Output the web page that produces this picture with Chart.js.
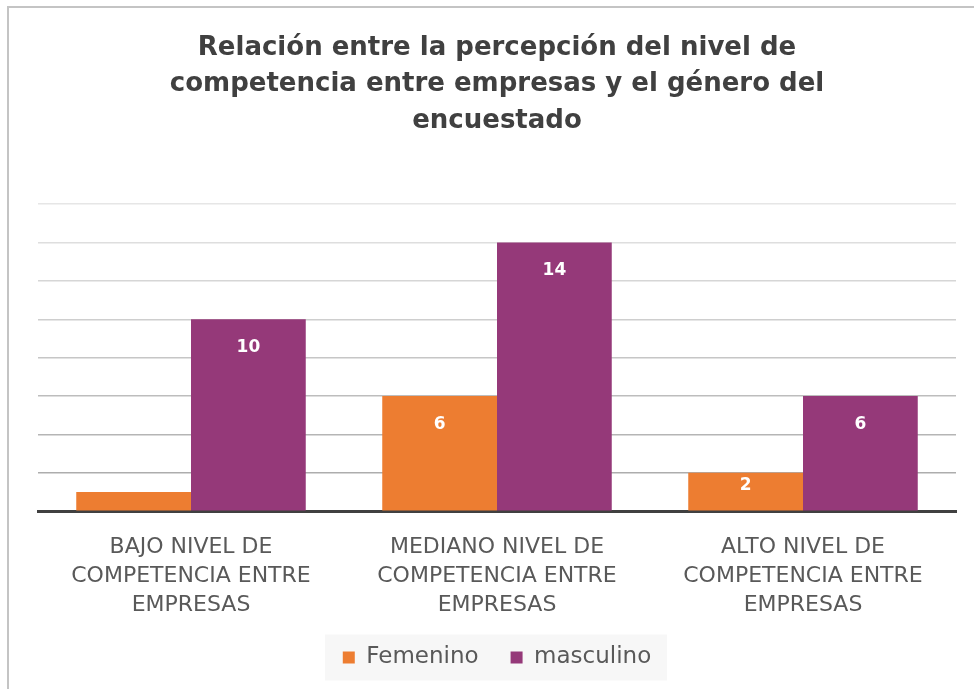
<!DOCTYPE html>
<html>
<head>
<meta charset="utf-8">
<script src="https://cdn.jsdelivr.net/npm/chart.js@4/dist/chart.umd.min.js"></script>
<style>
    html, body { margin: 0; padding: 0; background: #fff; }
    #frame {
        position: absolute; left: 7px; top: 6px;
        width: 967px; height: 683px;
        border-left: 2px solid #c4c4c4; border-top: 2px solid #c4c4c4;
    }
    canvas { display: block; }
</style>
</head>
<body>
<div id="frame"><canvas id="genderChart" width="967" height="683"></canvas></div>
<script>
const categories = [
    ["BAJO NIVEL DE", "COMPETENCIA ENTRE", "EMPRESAS"],
    ["MEDIANO NIVEL DE", "COMPETENCIA ENTRE", "EMPRESAS"],
    ["ALTO NIVEL DE", "COMPETENCIA ENTRE", "EMPRESAS"]
];
const femenino = [1, 6, 2];
const masculino = [10, 14, 6];
const seriesNames = ["Femenino", "masculino"];

const FONT = "'DejaVu Sans', sans-serif";

// white value labels near the top of each bar
const barLabels = {
    id: 'barLabels',
    afterDatasetsDraw(chart) {
        const ctx = chart.ctx;
        ctx.save();
        ctx.font = "bold 17px " + FONT;
        ctx.fillStyle = '#ffffff';
        ctx.textAlign = 'center';
        ctx.textBaseline = 'middle';
        chart.data.datasets.forEach((ds, i) => {
            chart.getDatasetMeta(i).data.forEach((bar, j) => {
                const h = bar.base - bar.y;
                if (h < 30) return;
                ctx.fillText(ds.data[j], bar.x, bar.y + Math.min(28, h * 0.35));
            });
        });
        ctx.restore();
    }
};

// light grey box behind the legend
const legendBox = {
    id: 'legendBox',
    beforeDraw(chart) {
        const hb = chart.legend.legendHitBoxes && chart.legend.legendHitBoxes[0];
        if (!hb) return;
        const ctx = chart.ctx;
        ctx.save();
        ctx.fillStyle = '#f7f7f7';
        const w = 342, h = 46;
        const cx = chart.chartArea.left + (chart.chartArea.right - chart.chartArea.left) / 2;
        const cy = hb.top + hb.height / 2;
        ctx.fillRect(cx - w / 2 - 1, cy - h / 2, w, h);
        ctx.restore();
    }
};

const ctxGender = document.getElementById('genderChart').getContext('2d');
const genderChart = new Chart(ctxGender, {
    type: 'bar',
    data: {
        labels: categories,
        datasets: [
            {
                label: seriesNames[0],
                data: femenino,
                backgroundColor: '#ED7D31',
            },
            {
                label: seriesNames[1],
                data: masculino,
                backgroundColor: '#953979',
            }
        ]
    },
    options: {
        responsive: false,
        animation: false,
        layout: {
            padding: { left: 29, right: 20, top: 0, bottom: 12 }
        },
        datasets: {
            bar: {
                categoryPercentage: 0.75,
                barPercentage: 1.0,
                borderWidth: 0,
            }
        },
        scales: {
            x: {
                grid: { display: false },
                border: { color: '#404040', width: 3 },
                ticks: {
                    color: '#595959',
                    font: { family: FONT, size: 22, lineHeight: 1.33 },
                    padding: 13,
                    maxRotation: 0,
                },
                afterFit: (scale) => { scale.height -= 19; },
            },
            y: {
                min: 0,
                max: 16,
                ticks: { display: false, stepSize: 2 },
                border: { display: false },
                grid: {
                    drawTicks: false,
                    lineWidth: 1.5,
                    color: (c) => {
                        const v = c.tick ? c.tick.value : 0;
                        const g = Math.round(165 + (v / 16) * 65);
                        return 'rgb(' + g + ',' + g + ',' + g + ')';
                    },
                },
            }
        },
        plugins: {
            title: {
                display: true,
                text: [
                    "Relación entre la percepción del nivel de",
                    "competencia entre empresas y el género del",
                    "encuestado"
                ],
                color: '#404040',
                font: { family: FONT, size: 26, weight: 'bold', lineHeight: 1.4 },
                padding: { top: 22, bottom: 65 },
            },
            legend: {
                position: 'bottom',
                labels: {
                    color: '#595959',
                    font: { family: FONT, size: 23 },
                    boxWidth: 12,
                    boxHeight: 12,
                    padding: 32,
                },
            },
            tooltip: { enabled: false },
        }
    },
    plugins: [legendBox, barLabels],
});
</script>
</body>
</html>
